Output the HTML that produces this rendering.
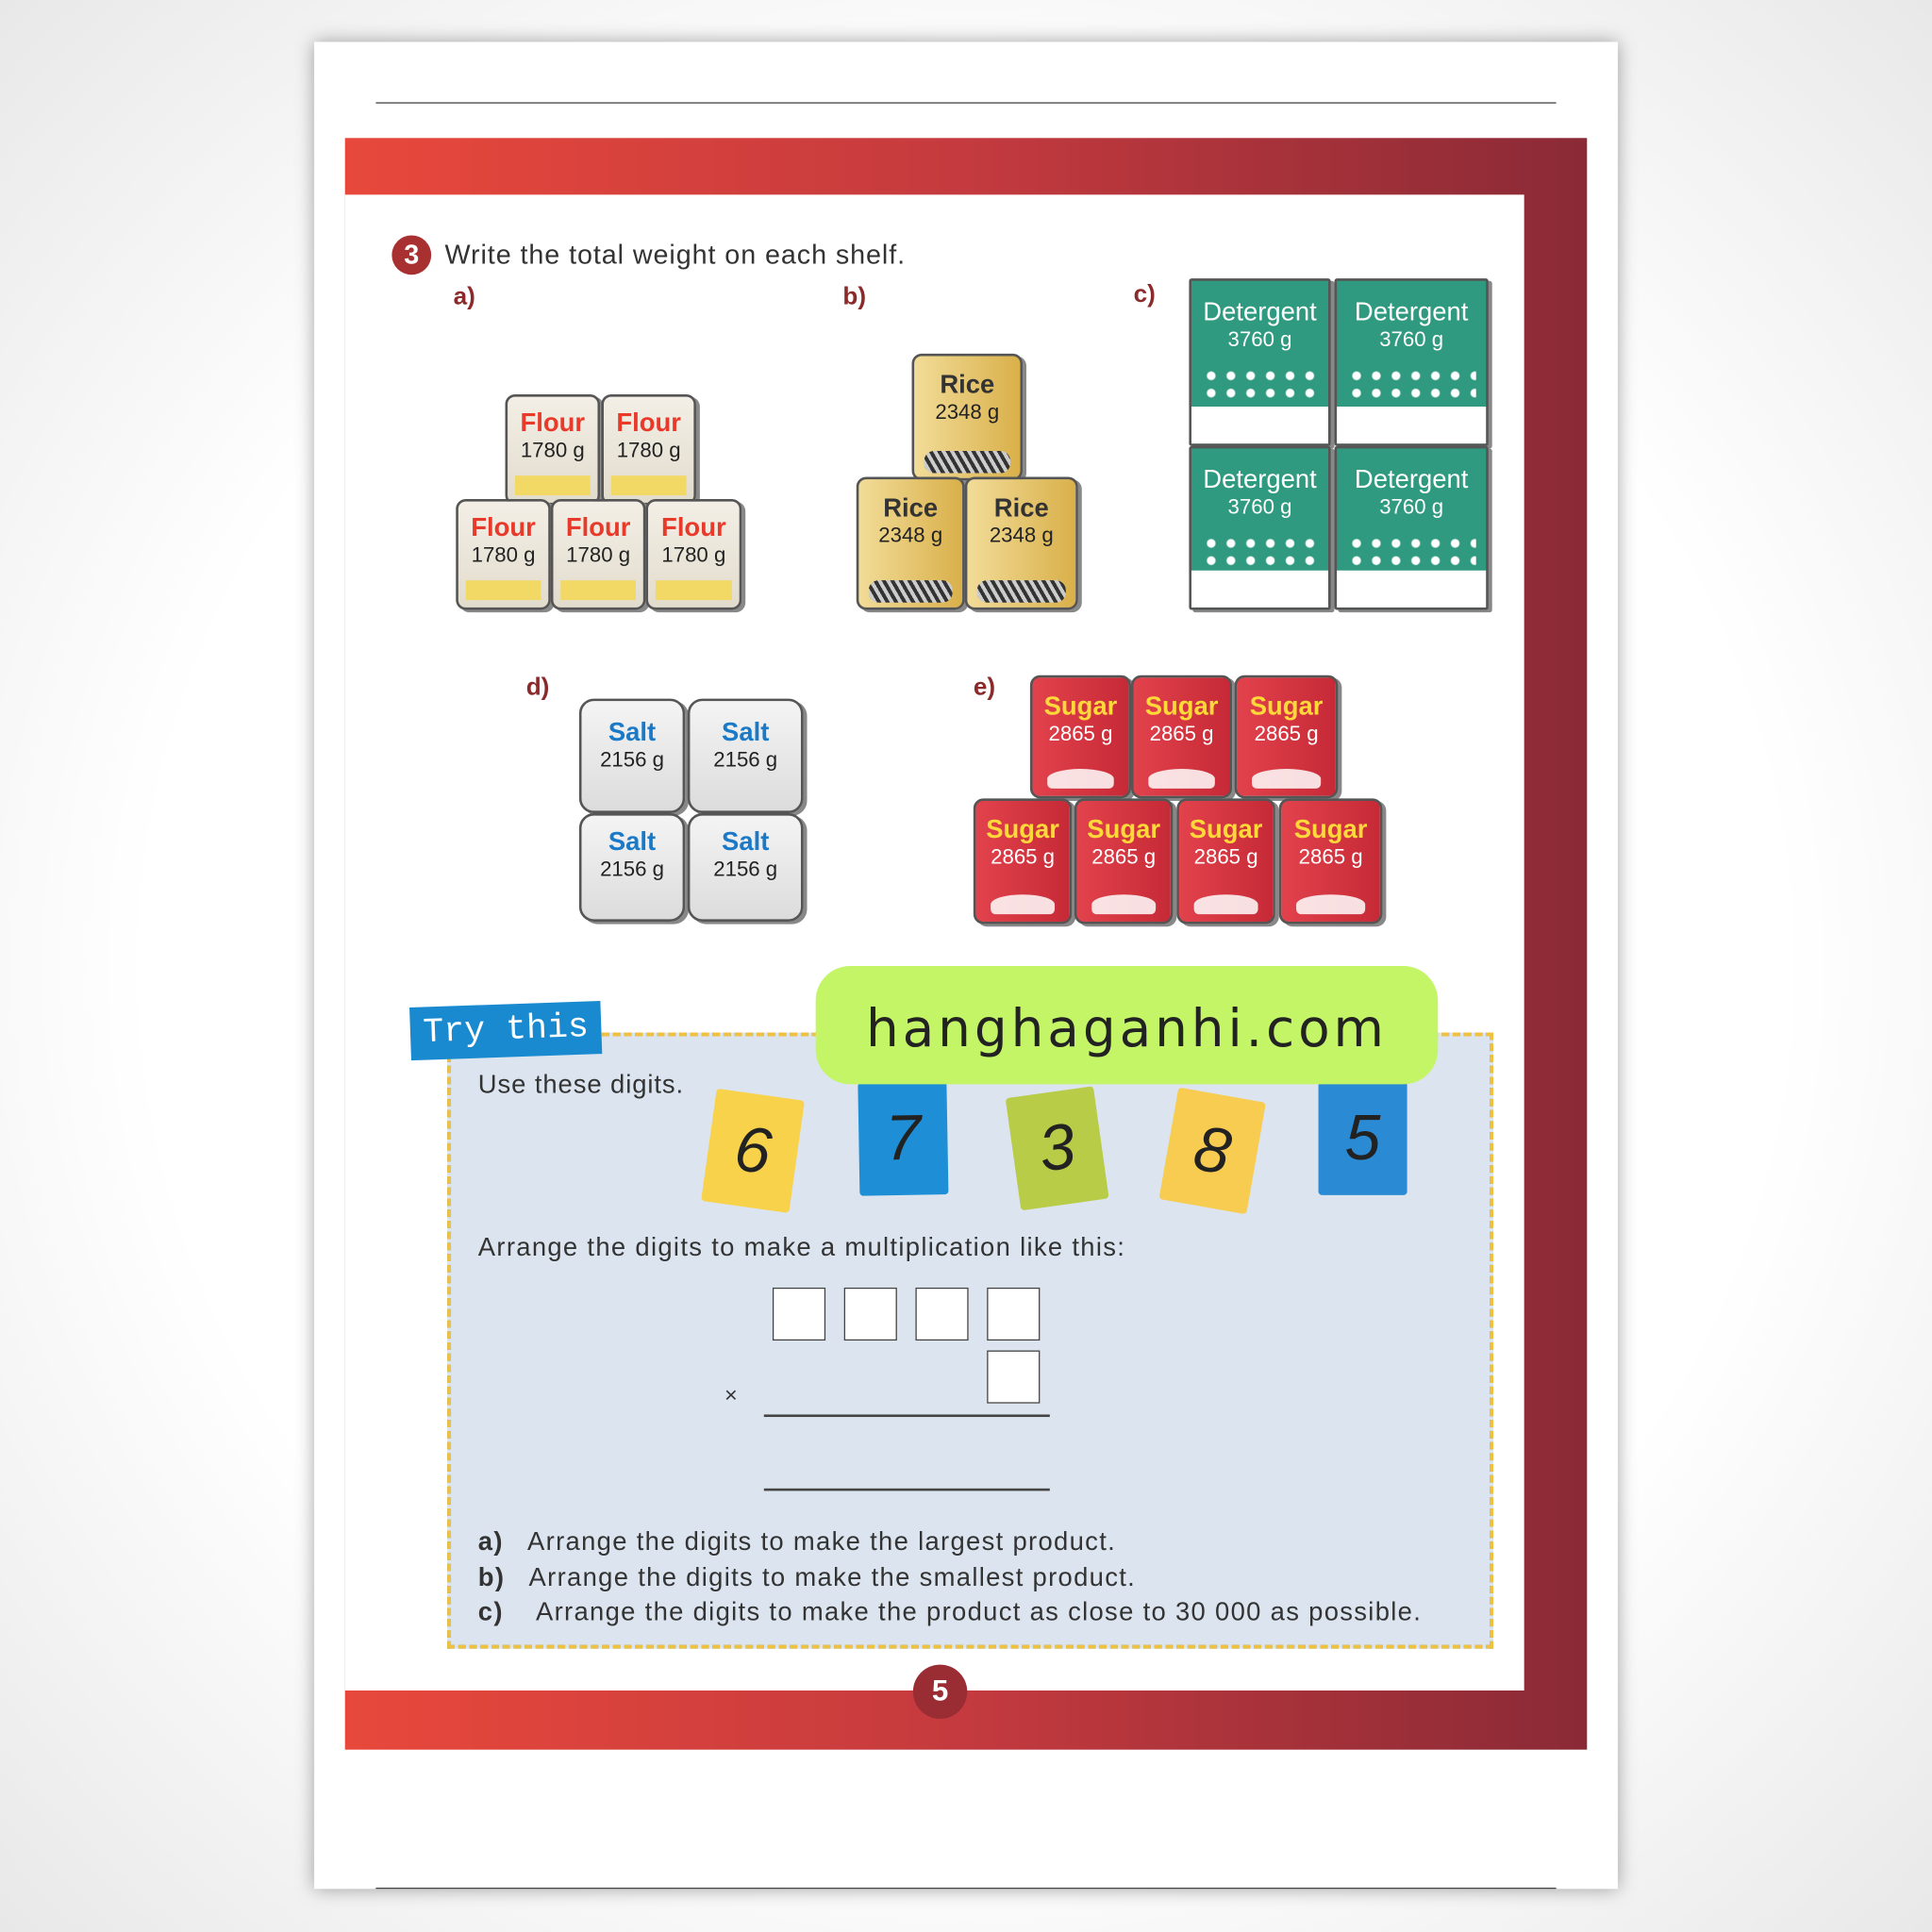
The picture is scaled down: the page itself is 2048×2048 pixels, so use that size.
<!DOCTYPE html>
<html><head><meta charset="utf-8"><style>
html,body{margin:0;padding:0;width:2048px;height:2048px;overflow:hidden;background:#fff}
#w{position:absolute;left:0;top:0;width:1568px;height:1568px;transform:scale(1.30612);transform-origin:0 0;background:radial-gradient(ellipse at center,#fff 60%,#e8e8e8 100%);font-family:"Liberation Sans",sans-serif}
.a{position:absolute}
.pg{left:255px;top:34px;width:1058px;height:1499px;background:#fff;box-shadow:0 0 14px rgba(0,0,0,.35)}
.bx{position:absolute;border:2px solid #555;border-radius:8px;box-sizing:border-box;text-align:center;box-shadow:3px 2px 0 #888}
.n{font-weight:bold;font-size:21px;line-height:24px}
.g{font-size:17px;line-height:20px;color:#222}
.fl{background:linear-gradient(#f3efe6,#e2dccd);}
.fl .n{color:#e83a2a;margin-top:10px}
.fl:after{content:"";position:absolute;left:6px;right:6px;bottom:6px;height:16px;background:#f5d64a;opacity:.8}
.ri{background:linear-gradient(90deg,#f2dc98,#d9b04a);}
.ri .n{color:#333;margin-top:12px}
.ri:after{content:"";position:absolute;left:8px;right:8px;bottom:4px;height:18px;background:repeating-linear-gradient(60deg,#333 0 3px,#ccc 3px 6px);border-radius:8px}
.de{background:#2f9a80;border-radius:2px}
.de .n{color:#fff;margin-top:14px;font-weight:normal;font-size:21px}
.de .g{color:#fff}
.de:after{content:"";position:absolute;left:0;right:0;bottom:0;height:30px;background:#fff}
.de:before{content:"";position:absolute;left:8px;right:8px;top:70px;height:30px;background:radial-gradient(circle,#fff 3px,transparent 4px) 0 0/16px 14px}
.sa{background:linear-gradient(#f4f4f4,#dcdcdc);border-radius:12px}
.sa .n{color:#1a7ac8;margin-top:14px}
.su{background:linear-gradient(90deg,#e2424c,#c62a36);border-radius:8px}
.su .n{color:#ffd83a;margin-top:12px}
.su .g{color:#fff}
.su:after{content:"";position:absolute;left:12px;right:12px;bottom:6px;height:16px;background:#fff;border-radius:50% 50% 4px 4px;opacity:.85}
.lb{font-weight:bold;color:#8a2a2a;font-size:20px}
.t{font-size:21px;color:#333;letter-spacing:0.7px;white-space:nowrap}
.card{position:absolute;width:72px;height:92px;font-size:52px;text-align:center;line-height:92px;color:#222;border-radius:3px;font-style:italic}
.sq{position:absolute;width:43px;height:43px;background:#fff;border:1.5px solid #444;box-sizing:border-box}
</style></head><body><div id="w">
<div class="a pg"></div>
<div class="a" style="left:305px;top:83px;width:958px;height:1px;background:#444"></div>
<div class="a" style="left:305px;top:1532px;width:958px;height:1px;background:#444"></div>
<div class="a" style="left:280px;top:112px;width:1008px;height:1308px;background:linear-gradient(90deg,#e8483c,#c43a3e 50%,#8a2a36)"></div>
<div class="a" style="left:280px;top:158px;width:957px;height:1214px;background:#fff"></div>

<div class="a" style="left:318px;top:191px;width:32px;height:32px;border-radius:50%;background:#a83030;color:#fff;font-weight:bold;font-size:22px;text-align:center;line-height:32px">3</div>
<div class="a t" style="left:361px;top:194px;font-size:22px">Write the total weight on each shelf.</div>
<div class="a lb" style="left:368px;top:230px">a)</div>
<div class="a lb" style="left:684px;top:230px">b)</div>
<div class="a lb" style="left:920px;top:228px">c)</div>
<div class="a lb" style="left:427px;top:547px">d)</div>
<div class="a lb" style="left:790px;top:547px">e)</div>

<div class="bx fl" style="left:410px;top:320px;width:77px;height:90px"><div class="n">Flour</div><div class="g">1780 g</div></div>
<div class="bx fl" style="left:488px;top:320px;width:77px;height:90px"><div class="n">Flour</div><div class="g">1780 g</div></div>
<div class="bx fl" style="left:370px;top:405px;width:77px;height:90px"><div class="n">Flour</div><div class="g">1780 g</div></div>
<div class="bx fl" style="left:447px;top:405px;width:77px;height:90px"><div class="n">Flour</div><div class="g">1780 g</div></div>
<div class="bx fl" style="left:524px;top:405px;width:78px;height:90px"><div class="n">Flour</div><div class="g">1780 g</div></div>
<div class="bx ri" style="left:740px;top:287px;width:90px;height:103px"><div class="n">Rice</div><div class="g">2348 g</div></div>
<div class="bx ri" style="left:695px;top:387px;width:88px;height:108px"><div class="n">Rice</div><div class="g">2348 g</div></div>
<div class="bx ri" style="left:783px;top:387px;width:92px;height:108px"><div class="n">Rice</div><div class="g">2348 g</div></div>
<div class="bx de" style="left:965px;top:226px;width:115px;height:136px"><div class="n">Detergent</div><div class="g">3760 g</div></div>
<div class="bx de" style="left:1083px;top:226px;width:125px;height:136px"><div class="n">Detergent</div><div class="g">3760 g</div></div>
<div class="bx de" style="left:965px;top:362px;width:115px;height:133px"><div class="n">Detergent</div><div class="g">3760 g</div></div>
<div class="bx de" style="left:1083px;top:362px;width:125px;height:133px"><div class="n">Detergent</div><div class="g">3760 g</div></div>
<div class="bx sa" style="left:470px;top:567px;width:86px;height:93px"><div class="n">Salt</div><div class="g">2156 g</div></div>
<div class="bx sa" style="left:558px;top:567px;width:94px;height:93px"><div class="n">Salt</div><div class="g">2156 g</div></div>
<div class="bx sa" style="left:470px;top:660px;width:86px;height:88px"><div class="n" style="margin-top:10px">Salt</div><div class="g">2156 g</div></div>
<div class="bx sa" style="left:558px;top:660px;width:94px;height:88px"><div class="n" style="margin-top:10px">Salt</div><div class="g">2156 g</div></div>
<div class="bx su" style="left:836px;top:548px;width:82px;height:100px"><div class="n">Sugar</div><div class="g">2865 g</div></div>
<div class="bx su" style="left:918px;top:548px;width:82px;height:100px"><div class="n">Sugar</div><div class="g">2865 g</div></div>
<div class="bx su" style="left:1002px;top:548px;width:84px;height:100px"><div class="n">Sugar</div><div class="g">2865 g</div></div>
<div class="bx su" style="left:790px;top:648px;width:80px;height:102px"><div class="n">Sugar</div><div class="g">2865 g</div></div>
<div class="bx su" style="left:872px;top:648px;width:80px;height:102px"><div class="n">Sugar</div><div class="g">2865 g</div></div>
<div class="bx su" style="left:955px;top:648px;width:80px;height:102px"><div class="n">Sugar</div><div class="g">2865 g</div></div>
<div class="bx su" style="left:1038px;top:648px;width:84px;height:102px"><div class="n">Sugar</div><div class="g">2865 g</div></div>

<div class="a" style="left:363px;top:838px;width:849px;height:500px;box-sizing:border-box;background:#dce5ef;border:3px dashed #3a9ad8;outline:3px dashed #f0c040;outline-offset:-3px"></div>
<div class="a" style="left:333px;top:815px;width:155px;height:43px;background:#1a8ad0;transform:rotate(-2deg);color:#fff;font-family:'Liberation Mono',monospace;font-size:28px;text-align:center;line-height:43px">Try this</div>
<div class="a t" style="left:388px;top:869px">Use these digits.</div>
<div class="card" style="left:575px;top:888px;background:#f7d24a;transform:rotate(8deg)">6</div>
<div class="card" style="left:697px;top:878px;background:#1e8fd6;transform:rotate(-1deg)">7</div>
<div class="card" style="left:822px;top:886px;background:#b8cc48;transform:rotate(-8deg)">3</div>
<div class="card" style="left:948px;top:888px;background:#f7cc50;transform:rotate(10deg)">8</div>
<div class="card" style="left:1070px;top:878px;background:#2a8ad4;transform:rotate(0deg)">5</div>
<div class="a" style="left:662px;top:784px;width:505px;height:96px;border-radius:28px;background:#c4f566;font-family:'DejaVu Sans',sans-serif;font-size:42px;letter-spacing:3px;color:#222;text-align:center;line-height:102px">hanghaganhi.com</div>
<div class="a t" style="left:388px;top:1001px;letter-spacing:1px">Arrange the digits to make a multiplication like this:</div>
<div class="sq" style="left:627px;top:1045px"></div>
<div class="sq" style="left:685px;top:1045px"></div>
<div class="sq" style="left:743px;top:1045px"></div>
<div class="sq" style="left:801px;top:1045px"></div>
<div class="sq" style="left:801px;top:1096px"></div>
<div class="a t" style="left:588px;top:1122px;font-size:18px">×</div>
<div class="a" style="left:620px;top:1148px;width:232px;height:1.5px;background:#444"></div>
<div class="a" style="left:620px;top:1208px;width:232px;height:1.5px;background:#444"></div>
<div class="a t" style="left:388px;top:1240px;letter-spacing:1px"><b>a)</b>&nbsp;&nbsp; Arrange the digits to make the largest product.</div>
<div class="a t" style="left:388px;top:1269px;letter-spacing:1px"><b>b)</b>&nbsp;&nbsp; Arrange the digits to make the smallest product.</div>
<div class="a t" style="left:388px;top:1297px;letter-spacing:1px"><b>c)</b>&nbsp;&nbsp;&nbsp; Arrange the digits to make the product as close to 30 000 as possible.</div>
<div class="a" style="left:741px;top:1351px;width:44px;height:44px;border-radius:50%;background:#9a2d33;color:#fff;font-weight:bold;font-size:24px;text-align:center;line-height:44px">5</div>
</div></body></html>
